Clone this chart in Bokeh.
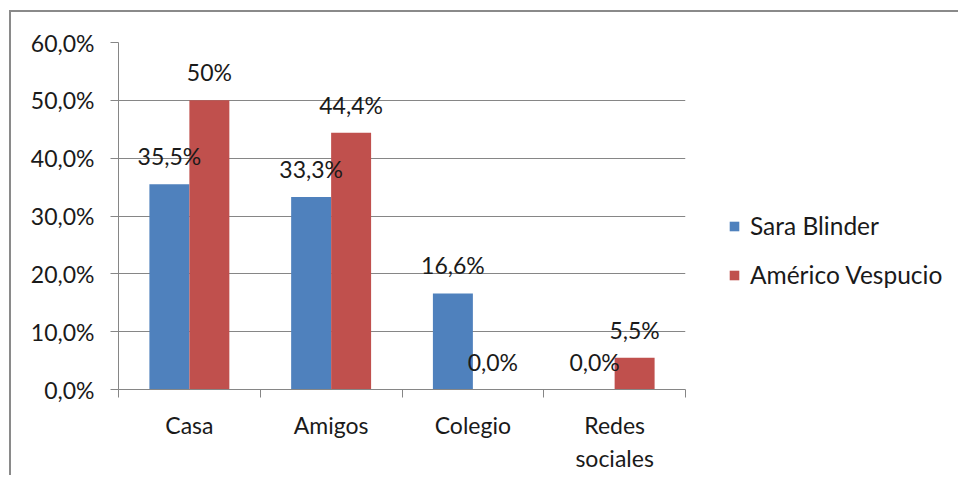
from bokeh.plotting import figure
from bokeh.models import (ColumnDataSource, Range1d, FixedTicker, Legend, LegendItem,
                          CustomJSTickFormatter)
from bokeh.core.properties import value
from bokeh.embed import file_html
from bokeh.resources import INLINE

categories = ["Casa", "Amigos", "Colegio", "Redes\nsociales"]
series_names = ["Sara Blinder", "Américo Vespucio"]
sara = [35.5, 33.3, 16.6, 0.0]
americo = [50.0, 44.4, 0.0, 5.5]
sara_labels = ["35,5%", "33,3%", "16,6%", "0,0%"]
americo_labels = ["50%", "44,4%", "0,0%", "5,5%"]
y_ticks = [0, 10, 20, 30, 40, 50, 60]

BLUE = "#4F81BD"
RED = "#C0504D"
GRID = "#868686"
FONT = "Lato"
FS = "23px"
TXT = "#1a1a1a"

n = len(categories)
centers = [i + 0.5 for i in range(n)]
bw = 0.282

p = figure(frame_width=567, frame_height=347, output_backend="svg", toolbar_location=None,
           x_range=Range1d(0, n), y_range=Range1d(0, 60),
           min_border_left=107, min_border_top=30, min_border_right=250, min_border_bottom=80,
           styles={"border-left": "2px solid #8a8a8a", "border-top": "2px solid #8a8a8a",
                   "margin-left": "9px", "margin-top": "10px"})
p.outline_line_color = None
p.background_fill_color = "white"
p.border_fill_color = "white"

src_s = ColumnDataSource(dict(x=[c - bw / 2 for c in centers], top=sara, lab=sara_labels))
src_a = ColumnDataSource(dict(x=[c + bw / 2 for c in centers], top=americo, lab=americo_labels))

r1 = p.vbar(x="x", top="top", width=bw, source=src_s, fill_color=BLUE, line_color=None)
r2 = p.vbar(x="x", top="top", width=bw, source=src_a, fill_color=RED, line_color=None)

for src in (src_s, src_a):
    p.text(x="x", y="top", text="lab", source=src, text_align="center", text_baseline="middle",
           y_offset=-28, text_font=value(FONT), text_font_size=FS, text_color=TXT)

# y axis
p.yaxis.ticker = FixedTicker(ticks=y_ticks)
p.yaxis.formatter = CustomJSTickFormatter(code="return tick.toFixed(1).replace('.', ',') + '%';")
p.yaxis.axis_line_color = GRID
p.yaxis.major_tick_line_color = GRID
p.yaxis.major_tick_out = 8
p.yaxis.major_tick_in = 0
p.yaxis.minor_tick_line_color = None
p.yaxis.major_label_standoff = 16
p.yaxis.major_label_text_font = FONT
p.yaxis.major_label_text_font_size = FS
p.yaxis.major_label_text_color = TXT

# x axis: labels at centers, tick marks at category boundaries
p.xaxis.ticker = FixedTicker(ticks=centers, minor_ticks=list(range(n + 1)))
p.xaxis.major_label_overrides = {c: cat for c, cat in zip(centers, categories)}
p.xaxis.axis_line_color = GRID
p.xaxis.major_tick_line_color = None
p.xaxis.major_tick_out = 0
p.xaxis.major_tick_in = 0
p.xaxis.minor_tick_line_color = GRID
p.xaxis.minor_tick_out = 8
p.xaxis.minor_tick_in = 0
p.xaxis.major_label_standoff = 13
p.xaxis.major_label_text_font = FONT
p.xaxis.major_label_text_font_size = FS
p.xaxis.major_label_text_color = TXT
p.xaxis.major_label_text_line_height = 1.2

p.xgrid.grid_line_color = None
p.ygrid.grid_line_color = GRID
p.ygrid.ticker = FixedTicker(ticks=y_ticks)

legend = Legend(items=[LegendItem(label=series_names[0], renderers=[r1]),
                       LegendItem(label=series_names[1], renderers=[r2])],
                location=(43, 100), orientation="vertical",
                glyph_width=12, glyph_height=12, label_standoff=10,
                label_text_font=FONT, label_text_font_size="24.5px", label_text_color=TXT,
                spacing=20, padding=0, margin=0, border_line_color=None,
                background_fill_alpha=0)
p.add_layout(legend, "right")

open("out.html", "w").write(file_html(p, INLINE))
